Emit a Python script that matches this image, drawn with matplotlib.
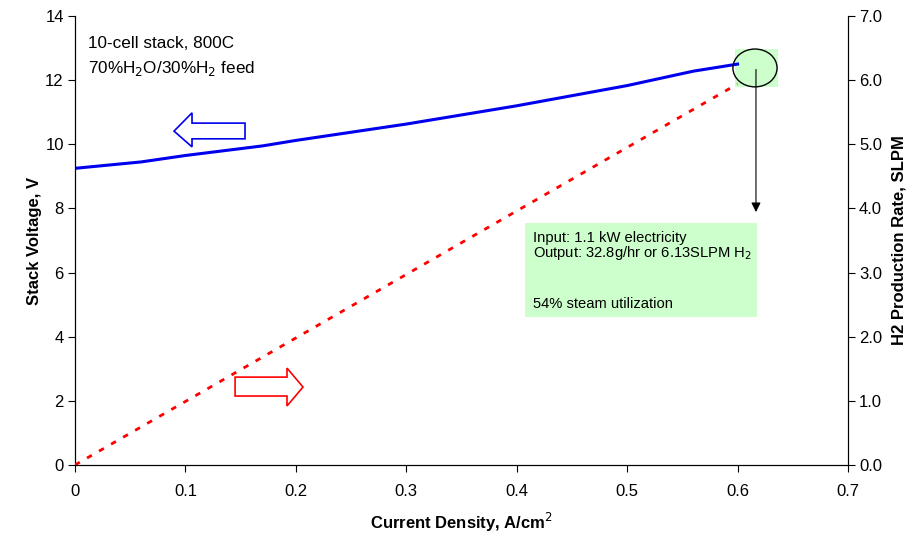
import matplotlib.pyplot as plt
from matplotlib.patches import Polygon, Ellipse, Rectangle

plt.rcParams['font.family'] = ['Liberation Sans', 'DejaVu Sans']

# current density, A/cm2
cd_v = [0.0, 0.06, 0.1, 0.17, 0.2, 0.3, 0.4, 0.5, 0.56, 0.6]
# stack voltage, V
volt = [9.25, 9.45, 9.65, 9.95, 10.12, 10.63, 11.2, 11.83, 12.28, 12.5]

cd_h = [0.0, 0.1, 0.2, 0.3, 0.4, 0.5, 0.6]
# H2 production rate, SLPM
h2 = [0.0, 0.99, 1.98, 2.97, 3.96, 4.95, 5.94]

fig = plt.figure(figsize=(9.22, 5.46), dpi=100)
ax = fig.add_axes([0.0813, 0.1484, 0.8384, 0.8223])
ax2 = ax.twinx()

ax.plot(cd_v, volt, color='#0000ee', lw=2.2, zorder=3)
ax2.plot(cd_h, h2, color='#ff0000', lw=2, linestyle=(0, (2, 3)), zorder=3)

ax.set_xlim(0, 0.7)
ax.set_ylim(0, 14)
ax2.set_ylim(0, 7)
ax.set_xticks([0, 0.1, 0.2, 0.3, 0.4, 0.5, 0.6, 0.7])
ax.set_xticklabels(['0', '0.1', '0.2', '0.3', '0.4', '0.5', '0.6', '0.7'])
ax.set_yticks(range(0, 15, 2))
ax2.set_yticks(range(0, 8))
ax2.set_yticklabels(['%.1f' % v for v in range(0, 8)])

for a in (ax, ax2):
    a.tick_params(direction='out', length=5, labelsize=12, width=0.8, pad=3)
    a.spines['top'].set_visible(False)
ax.tick_params(axis='x', pad=9)
ax.set_xlabel('Current Density, A/cm$^2$', fontsize=12, fontweight='bold', labelpad=8)
ax.set_ylabel('Stack Voltage, V', fontsize=12, fontweight='bold', labelpad=2)
ax2.set_ylabel('H2 Production Rate, SLPM', fontsize=12, fontweight='bold', labelpad=7)

ax.text(0.0118, 13.0, '10-cell stack, 800C', fontsize=12.3, va='baseline', ha='left')
ax.text(0.0118, 12.22, '70%H$_2$O/30%H$_2$ feed', fontsize=12.3, va='baseline', ha='left')

# hollow direction arrows
blue_arrow = [(0.0897, 10.41), (0.106, 10.98), (0.106, 10.66), (0.154, 10.66),
              (0.154, 10.17), (0.106, 10.17), (0.106, 9.92)]
ax.add_patch(Polygon(blue_arrow, closed=True, fill=False, edgecolor='#0000ee', lw=1.2))
red_arrow = [(0.145, 2.74), (0.192, 2.74), (0.192, 3.02), (0.2065, 2.43),
             (0.192, 1.84), (0.192, 2.15), (0.145, 2.15)]
ax.add_patch(Polygon(red_arrow, closed=True, fill=False, edgecolor='#ff0000', lw=1.2))

# highlight at the operating point
ax.add_patch(Rectangle((0.5977, 11.79), 0.039, 1.18, facecolor='#ccffcc', edgecolor='none', zorder=1))
ax.add_patch(Ellipse((0.6158, 12.38), 0.04, 1.18, facecolor='none', edgecolor='black', lw=1, zorder=4))
ax.annotate('', xy=(0.6167, 7.8), xytext=(0.6167, 12.42),
            arrowprops=dict(arrowstyle='-|>', color='black', lw=0.8, mutation_scale=14), zorder=4)

ax.add_patch(Rectangle((0.4075, 4.615), 0.21, 2.931, facecolor='#ccffcc', edgecolor='none', zorder=1))
ax.text(0.4147, 6.95, 'Input: 1.1 kW electricity', fontsize=10.6, va='baseline', ha='left')
ax.text(0.4147, 6.49, 'Output: 32.8g/hr or 6.13SLPM H$_2$', fontsize=10.6, va='baseline', ha='left')
ax.text(0.4147, 4.90, '54% steam utilization', fontsize=10.6, va='baseline', ha='left')

fig.savefig('out.png', dpi=100)
